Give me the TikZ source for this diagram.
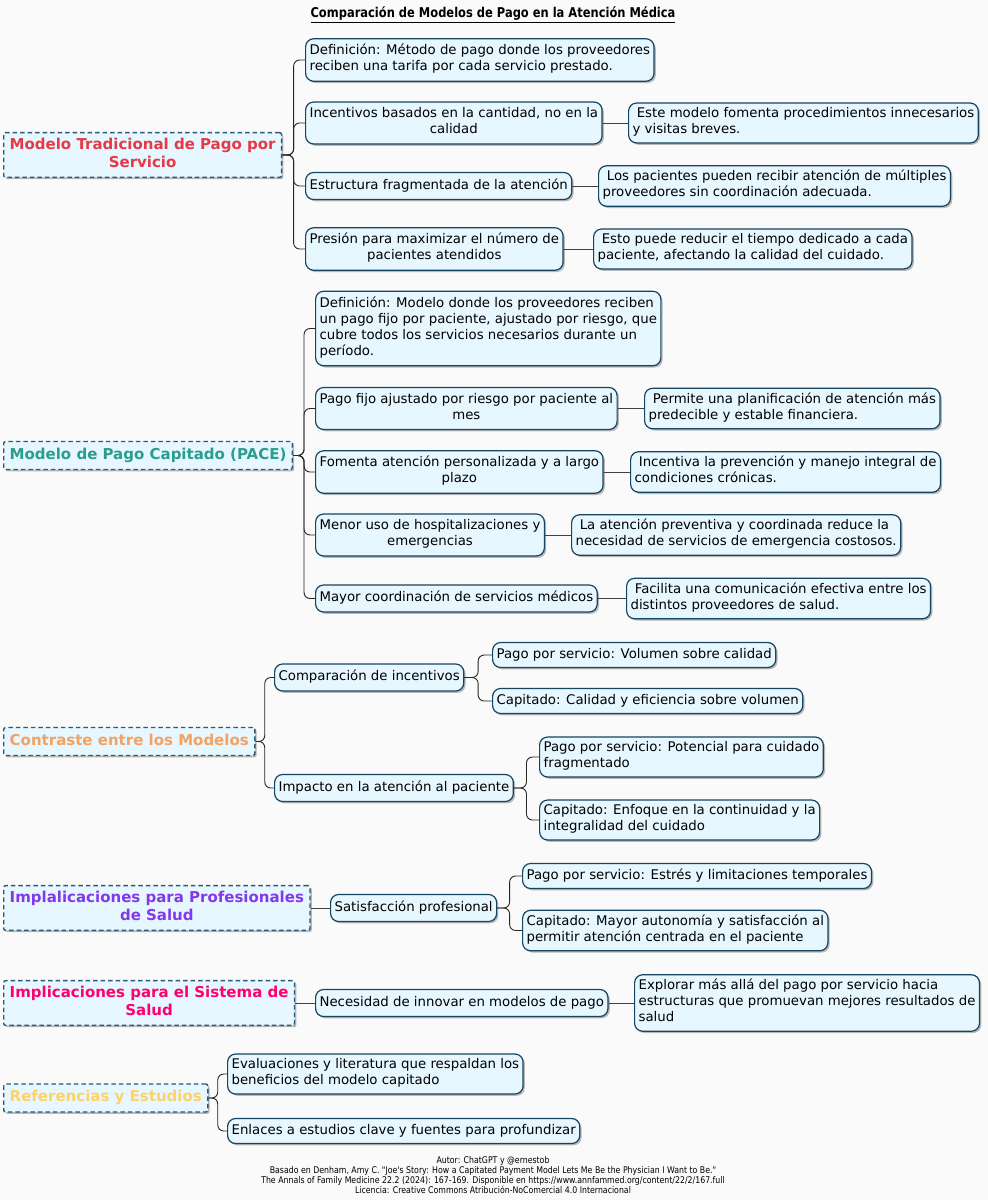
\documentclass[tikz,border=0pt]{standalone}
\usepackage{fontspec}
\setmainfont{DejaVu Sans}
\newfontfamily\condfont[FakeStretch=0.85]{DejaVu Sans}
\usetikzlibrary{shadows,calc}
\definecolor{bgc}{HTML}{FAFAFA}
\definecolor{nfill}{HTML}{E6F7FF}
\definecolor{nbd}{HTML}{17445E}
\definecolor{rbd}{HTML}{2A5A75}
\definecolor{cA}{HTML}{E63946}
\definecolor{cB}{HTML}{2A9D8F}
\definecolor{cC}{HTML}{F4A261}
\definecolor{cD}{HTML}{8338EC}
\definecolor{cE}{HTML}{FF006E}
\definecolor{cF}{HTML}{FFD166}
\tikzset{
  nshadow/.style={drop shadow={shadow xshift=1.8pt,shadow yshift=-1.8pt,fill=black!45,opacity=0.6}},
  box/.style={anchor=west,draw=nbd,fill=nfill,line width=1.2pt,rounded corners=8pt,
    inner xsep=4pt,inner ysep=5.5pt,font=\fontsize{13.3}{16}\selectfont,
    execute at begin node=\strut,execute at end node=\strut,nshadow},
  leaf/.style={box,inner ysep=4.5pt},
  rootbox/.style={anchor=west,draw=rbd,fill=nfill,line width=1.4pt,dashed,dash pattern=on 4.5pt off 3pt,
    rounded corners=2pt,inner xsep=6pt,inner ysep=5pt,align=center,
    font=\bfseries\fontsize{15}{18}\selectfont,
    execute at begin node=\strut,execute at end node=\strut,nshadow},
  conn/.style={draw=black!85,line width=0.9pt,rounded corners=6pt},
  hconn/.style={draw=black!75,line width=1pt},
}
\newcommand\conn[2]{\draw[conn] let \p1=(#1.east), \p2=(#2.west) in
  (\p1) -- ({(\x1+\x2)/2},\y1) -- ({(\x1+\x2)/2},\y2) -- (\p2);}
\newcommand\hcon[2]{\draw[hconn] (#1.east) -- (#2.west);}
\begin{document}
\begin{tikzpicture}[x=1pt,y=-1pt]
\fill[bgc] (0,0) rectangle (988,1200);
\useasboundingbox (0,0) rectangle (988,1200);

\node (title) at (493,15) {\condfont\bfseries\fontsize{13.5}{16}\selectfont\underline{Comparación de Modelos de Pago en la Atención Médica}};

% Root 1
\node[rootbox,text=cA] (r1) at (3,155) {Modelo Tradicional de Pago por\\Servicio};
\node[box,align=left] (a1) at (305,60) {Definición: Método de pago donde los proveedores\\reciben una tarifa por cada servicio prestado.};
\node[box,align=center] (a2) at (305,123) {Incentivos basados en la cantidad, no en la\\calidad};
\node[leaf,align=left] (a2l) at (628,123) {\ Este modelo fomenta procedimientos innecesarios\\y visitas breves.};
\node[box,align=center] (a3) at (305,186) {Estructura fragmentada de la atención};
\node[leaf,align=left] (a3l) at (598,186) {\ Los pacientes pueden recibir atención de múltiples\\proveedores sin coordinación adecuada.};
\node[box,align=center] (a4) at (305,249) {Presión para maximizar el número de\\pacientes atendidos};
\node[leaf,align=left] (a4l) at (593,249) {\ Esto puede reducir el tiempo dedicado a cada\\paciente, afectando la calidad del cuidado.};
\conn{r1}{a1}\conn{r1}{a2}\conn{r1}{a3}\conn{r1}{a4}
\hcon{a2}{a2l}\hcon{a3}{a3l}\hcon{a4}{a4l}

% Root 2
\node[rootbox,text=cB] (r2) at (3,455.5) {Modelo de Pago Capitado (PACE)};
\node[box,align=left] (b1) at (315,328.5) {Definición: Modelo donde los proveedores reciben\\un pago fijo por paciente, ajustado por riesgo, que\\cubre todos los servicios necesarios durante un\\período.};
\node[box,align=center] (b2) at (315,408.5) {Pago fijo ajustado por riesgo por paciente al\\mes};
\node[leaf,align=left] (b2l) at (644,408.5) {\ Permite una planificación de atención más\\predecible y estable financiera.};
\node[box,align=center] (b3) at (315,472) {Fomenta atención personalizada y a largo\\plazo};
\node[leaf,align=left] (b3l) at (630,472) {\ Incentiva la prevención y manejo integral de\\condiciones crónicas.};
\node[box,align=center] (b4) at (315,535) {Menor uso de hospitalizaciones y\\emergencias};
\node[leaf,align=left] (b4l) at (571,535) {\ La atención preventiva y coordinada reduce la\\necesidad de servicios de emergencia costosos.};
\node[box,align=center] (b5) at (315,598.5) {Mayor coordinación de servicios médicos};
\node[leaf,align=left] (b5l) at (626,598.5) {\ Facilita una comunicación efectiva entre los\\distintos proveedores de salud.};
\conn{r2}{b1}\conn{r2}{b2}\conn{r2}{b3}\conn{r2}{b4}\conn{r2}{b5}
\hcon{b2}{b2l}\hcon{b3}{b3l}\hcon{b4}{b4l}\hcon{b5}{b5l}

% Root 3
\node[rootbox,text=cC] (r3) at (3,741.5) {Contraste entre los Modelos};
\node[box,align=center] (c1) at (274,677.5) {Comparación de incentivos};
\node[leaf,align=left] (c1a) at (492,655) {Pago por servicio: Volumen sobre calidad};
\node[leaf,align=left] (c1b) at (492,701) {Capitado: Calidad y eficiencia sobre volumen};
\node[box,align=center] (c2) at (274,788) {Impacto en la atención al paciente};
\node[leaf,align=left] (c2a) at (539,757) {Pago por servicio: Potencial para cuidado\\fragmentado};
\node[leaf,align=left] (c2b) at (539,820) {Capitado: Enfoque en la continuidad y la\\integralidad del cuidado};
\conn{r3}{c1}\conn{r3}{c2}
\conn{c1}{c1a}\conn{c1}{c1b}\conn{c2}{c2a}\conn{c2}{c2b}

% Root 4
\node[rootbox,text=cD] (r4) at (3,908) {Implalicaciones para Profesionales\\de Salud};
\node[box,align=center] (d1) at (330,908) {Satisfacción profesional};
\node[leaf,align=left] (d1a) at (522,876) {Pago por servicio: Estrés y limitaciones temporales};
\node[leaf,align=left] (d1b) at (522,930.5) {Capitado: Mayor autonomía y satisfacción al\\permitir atención centrada en el paciente};
\hcon{r4}{d1}\conn{d1}{d1a}\conn{d1}{d1b}

% Root 5
\node[rootbox,text=cE] (r5) at (3,1003) {Implicaciones para el Sistema de\\Salud};
\node[box,align=center] (e1) at (315,1003) {Necesidad de innovar en modelos de pago};
\node[leaf,align=left] (e1l) at (634,1003) {Explorar más allá del pago por servicio hacia\\estructuras que promuevan mejores resultados de\\salud};
\hcon{r5}{e1}\hcon{e1}{e1l}

% Root 6
\node[rootbox,text=cF] (r6) at (3,1098) {Referencias y Estudios};
\node[leaf,align=left] (f1) at (227,1074) {Evaluaciones y literatura que respaldan los\\beneficios del modelo capitado};
\node[leaf,align=left] (f2) at (227,1131) {Enlaces a estudios clave y fuentes para profundizar};
\conn{r6}{f1}\conn{r6}{f2}

% Footer
\node[align=center,font=\condfont\fontsize{9.2}{9.8}\selectfont,inner sep=0pt] (foot) at (493,1175) {Autor: ChatGPT y @ernestob\\Basado en Denham, Amy C. "Joe's Story: How a Capitated Payment Model Lets Me Be the Physician I Want to Be."\\The Annals of Family Medicine 22.2 (2024): 167-169. Disponible en https://www.annfammed.org/content/22/2/167.full\\Licencia: Creative Commons Atribución-NoComercial 4.0 Internacional};
\end{tikzpicture}
\end{document}
